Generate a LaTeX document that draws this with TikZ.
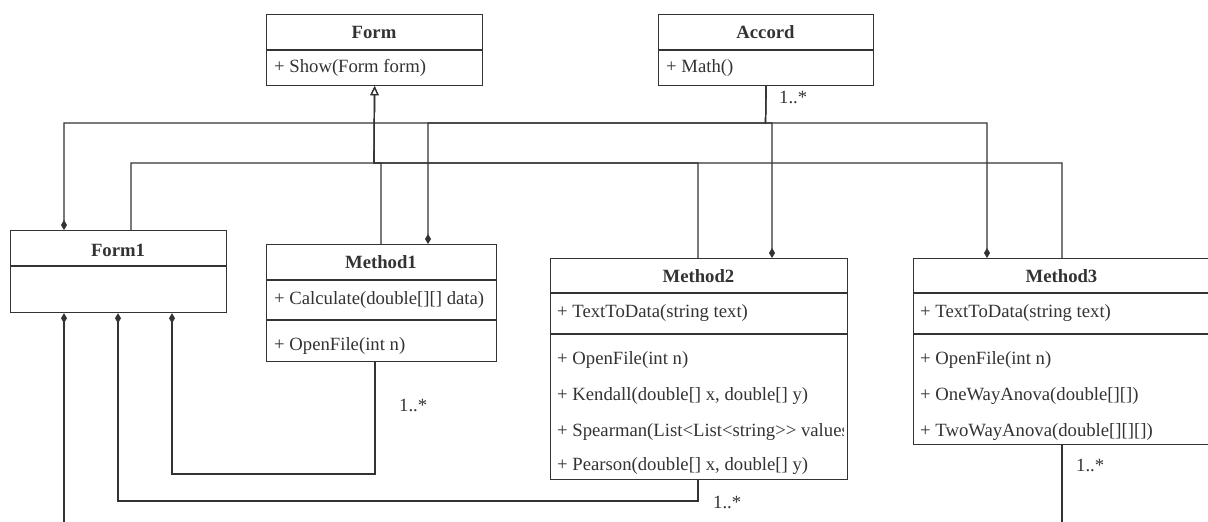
\documentclass[tikz,border=0pt]{standalone}
\usepackage{fontspec}
\setmainfont{Liberation Serif}
\usetikzlibrary{arrows.meta,calc}
\definecolor{ink}{HTML}{333333}
\tikzset{
  umlbox/.style={draw=ink, line width=1.2pt, anchor=north west, inner sep=0pt, fill=white},
  umltitle/.style={font=\fontsize{18.7}{21}\selectfont\bfseries, text=ink, inner sep=0pt},
  member/.style={font=\fontsize{18.7}{21}\selectfont, text=ink, anchor=west, inner sep=0pt},
  mult/.style={font=\fontsize{18.7}{21}\selectfont, text=ink, anchor=west, inner sep=0pt},
  rule/.style={draw=ink, line width=1.2pt},
  link/.style={draw=ink, line width=1.2pt},
  compend/.style={link, -{Diamond[length=10pt,width=6pt]}},
  compstart/.style={link, {Diamond[length=10pt,width=6pt]}-},
  inherit/.style={link, -{Triangle[open,length=9pt,width=8pt,fill=white]}},
}
\begin{document}
\begin{tikzpicture}[x=1pt,y=-1pt]
\useasboundingbox (0,0) rectangle (1208,522);

% ---------- Form ----------
\node[umlbox, minimum width=216pt, minimum height=71pt] (form) at (266,14) {};
\node[umltitle] (formT) at (374,32) {Form};
\draw[rule] (266,50) -- (482,50);
\node[member] (formM1) at (274,68) {+ Show(Form form)};

% ---------- Accord ----------
\node[umlbox, minimum width=215pt, minimum height=71pt] (accord) at (658,14) {};
\node[umltitle] (accordT) at (765.5,32) {Accord};
\draw[rule] (658,50) -- (873,50);
\node[member] (accordM1) at (666,68) {+ Math()};

% ---------- Form1 ----------
\node[umlbox, minimum width=216pt, minimum height=82pt] (form1) at (10,230) {};
\node[umltitle] (form1T) at (118,250) {Form1};
\draw[rule] (10,266) -- (226,266);

% ---------- Method1 ----------
\node[umlbox, minimum width=230pt, minimum height=117pt] (method1) at (266,244) {};
\node[umltitle] (method1T) at (381,262) {Method1};
\draw[rule] (266,280) -- (496,280);
\node[member] (method1A1) at (274,300) {+ Calculate(double[][] data)};
\draw[rule] (266,320) -- (496,320);
\node[member] (method1O1) at (274,346) {+ OpenFile(int n)};

% ---------- Method2 ----------
\node[umlbox, minimum width=297pt, minimum height=221pt] (method2) at (550,258) {};
\node[umltitle] (method2T) at (698.5,276) {Method2};
\draw[rule] (550,293) -- (847,293);
\node[member] (method2A1) at (557,313) {+ TextToData(string text)};
\draw[rule] (550,334) -- (847,334);
\begin{scope}
  \clip (550,334) rectangle (843,479);
  \node[member] (method2O1) at (557,360) {+ OpenFile(int n)};
  \node[member] (method2O2) at (557,396) {+ Kendall(double[] x, double[] y)};
  \node[member] (method2O3) at (557,432) {+ Spearman(List<{}List<{}string>{}> values)};
  \node[member] (method2O4) at (557,466) {+ Pearson(double[] x, double[] y)};
\end{scope}

% ---------- Method3 ----------
\node[umlbox, minimum width=297pt, minimum height=186pt] (method3) at (913,258) {};
\node[umltitle] (method3T) at (1061.5,276) {Method3};
\draw[rule] (913,293) -- (1210,293);
\node[member] (method3A1) at (920,313) {+ TextToData(string text)};
\draw[rule] (913,334) -- (1210,334);
\node[member] (method3O1) at (920,360) {+ OpenFile(int n)};
\node[member] (method3O2) at (920,396) {+ OneWayAnova(double[][])};
\node[member] (method3O3) at (920,432) {+ TwoWayAnova(double[][][])};

% ---------- attachment points ----------
\coordinate (accBus) at (765.5,123);
\coordinate (genBus) at (374,163);
\coordinate (f1TopA) at ([xshift=54pt]form1.north west);
\coordinate (f1TopG) at ([xshift=121pt]form1.north west);
\coordinate (f1BotA) at ([xshift=54pt]form1.south west);
\coordinate (f1BotB) at ([xshift=108pt]form1.south west);
\coordinate (f1BotC) at ([xshift=162pt]form1.south west);
\coordinate (m1TopA) at ([xshift=162pt]method1.north west);
\coordinate (m1TopG) at ([xshift=115pt]method1.north west);
\coordinate (m1Bot)  at ([xshift=109pt]method1.south west);
\coordinate (m2TopA) at ([xshift=222pt]method2.north west);
\coordinate (m2TopG) at ([xshift=148pt]method2.north west);
\coordinate (m2Bot)  at ([xshift=148pt]method2.south west);
\coordinate (m3TopA) at ([xshift=74pt]method3.north west);
\coordinate (m3TopG) at ([xshift=149pt]method3.north west);
\coordinate (m3Bot)  at ([xshift=149pt]method3.south west);
\coordinate (f1Out) at (64,522);
\coordinate (m3Out) at (1062,522);

% ---------- composition from Accord ----------
\draw[compend] (accord.south) -- (accBus) -| (f1TopA);
\draw[compend] (accord.south) -- (accBus) -| (m1TopA);
\draw[compend] (accord.south) -- (accBus) -| (m2TopA);
\draw[compend] (accord.south) -- (accBus) -| (m3TopA);
\node[mult] (accMult) at (779,97) {1..*};

% ---------- generalisation to Form ----------
\draw[inherit] (f1TopG) |- (genBus) -- (form.south);
\draw[inherit] (m1TopG) |- (genBus) -- (form.south);
\draw[inherit] (m2TopG) |- (genBus) -- (form.south);
\draw[inherit] (m3TopG) |- (genBus) -- (form.south);

% ---------- composition from Form1 ----------
\draw[compstart] (f1BotC) |- (375,474) -- (m1Bot);
\node[mult] (m1Mult) at (399,405) {1..*};
\draw[compstart] (f1BotB) |- (698,501) -- (m2Bot);
\node[mult] (m2Mult) at (713,502) {1..*};
\draw[compstart] (f1BotA) -- (f1Out);
\draw[link] (m3Bot) -- (m3Out);
\node[mult] (m3Mult) at (1076,465) {1..*};
\end{tikzpicture}
\end{document}
